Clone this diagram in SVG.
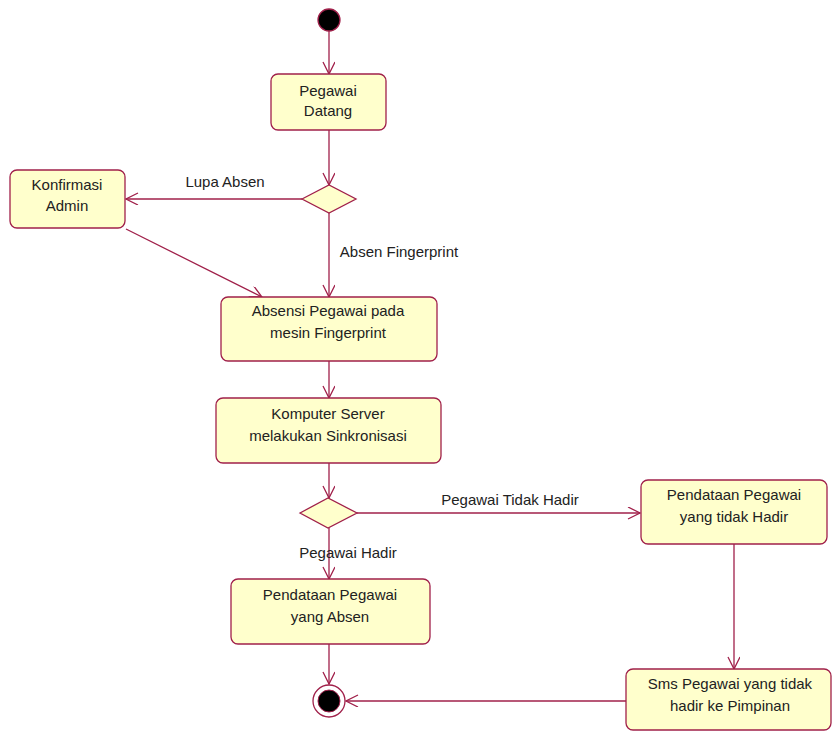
<svg xmlns="http://www.w3.org/2000/svg" width="832" height="731" viewBox="0 0 832 731">
<style>
.node{fill:#ffffcc;stroke:#a0204a;stroke-width:1.3}
.c{stroke:#a0204a;stroke-width:1.3;fill:none}
text{font-family:"Liberation Sans",Arial,sans-serif;font-size:15px;fill:#222;text-anchor:middle}
</style>
<defs>
<marker id="a" markerWidth="14" markerHeight="14" refX="13" refY="6" orient="auto" markerUnits="userSpaceOnUse">
<path d="M1,0 L13,6 L1,12" fill="none" stroke="#a0204a" stroke-width="1.3"/>
</marker>
</defs>
<rect width="832" height="731" fill="#fff"/>
<g id="connectors">
<line class="c" x1="329" y1="31" x2="329" y2="74" marker-end="url(#a)"/>
<line class="c" x1="329" y1="130" x2="329" y2="185" marker-end="url(#a)"/>
<line class="c" x1="302" y1="199" x2="126" y2="199" marker-end="url(#a)"/>
<line class="c" x1="329" y1="213" x2="329" y2="297" marker-end="url(#a)"/>
<line class="c" x1="126" y1="229" x2="262" y2="297" marker-end="url(#a)"/>
<line class="c" x1="329" y1="361" x2="329" y2="398" marker-end="url(#a)"/>
<line class="c" x1="329" y1="463" x2="329" y2="498" marker-end="url(#a)"/>
<line class="c" x1="357" y1="513" x2="640" y2="513" marker-end="url(#a)"/>
<line class="c" x1="329" y1="528" x2="329" y2="579" marker-end="url(#a)"/>
<line class="c" x1="734" y1="544" x2="734" y2="669" marker-end="url(#a)"/>
<line class="c" x1="329" y1="644" x2="329" y2="684" marker-end="url(#a)"/>
<line class="c" x1="626" y1="701" x2="346" y2="701" marker-end="url(#a)"/>
<text x="225" y="187">Lupa Absen</text>
<text x="399" y="257">Absen Fingerprint</text>
<text x="510" y="505">Pegawai Tidak Hadir</text>
<text x="348" y="558">Pegawai Hadir</text>
</g>
<g id="start"><circle cx="329" cy="20" r="11" fill="#000" stroke="#a0204a" stroke-width="1.3"/></g>
<g id="n1"><rect class="node" x="271" y="74" width="115" height="56" rx="7"/><text x="328" y="96">Pegawai</text><text x="328" y="116">Datang</text></g>
<g id="d1"><polygon class="node" points="302,199 329,185 356,199 329,213"/></g>
<g id="n2"><rect class="node" x="10" y="170" width="115" height="58" rx="7"/><text x="67" y="190">Konfirmasi</text><text x="67" y="211">Admin</text></g>
<g id="n3"><rect class="node" x="221" y="297" width="216" height="64" rx="7"/><text x="328" y="316">Absensi Pegawai pada</text><text x="328" y="338">mesin Fingerprint</text></g>
<g id="n4"><rect class="node" x="216" y="398" width="225" height="65" rx="7"/><text x="328" y="419">Komputer Server</text><text x="328" y="441">melakukan Sinkronisasi</text></g>
<g id="d2"><polygon class="node" points="300,513 328,498 357,513 328,528"/></g>
<g id="n5"><rect class="node" x="231" y="579" width="199" height="65" rx="7"/><text x="330" y="600">Pendataan Pegawai</text><text x="330" y="622">yang Absen</text></g>
<g id="n6"><rect class="node" x="641" y="480" width="186" height="64" rx="7"/><text x="734" y="500">Pendataan Pegawai</text><text x="734" y="522">yang tidak Hadir</text></g>
<g id="n7"><rect class="node" x="626" y="669" width="205" height="61" rx="7"/><text x="730" y="689">Sms Pegawai yang tidak</text><text x="730" y="711">hadir ke Pimpinan</text></g>
<g id="end"><circle cx="329" cy="701" r="16" fill="#fff" stroke="#a0204a" stroke-width="1.3"/><circle cx="329" cy="701" r="11" fill="#000" stroke="#a0204a" stroke-width="1"/></g>
</svg>
